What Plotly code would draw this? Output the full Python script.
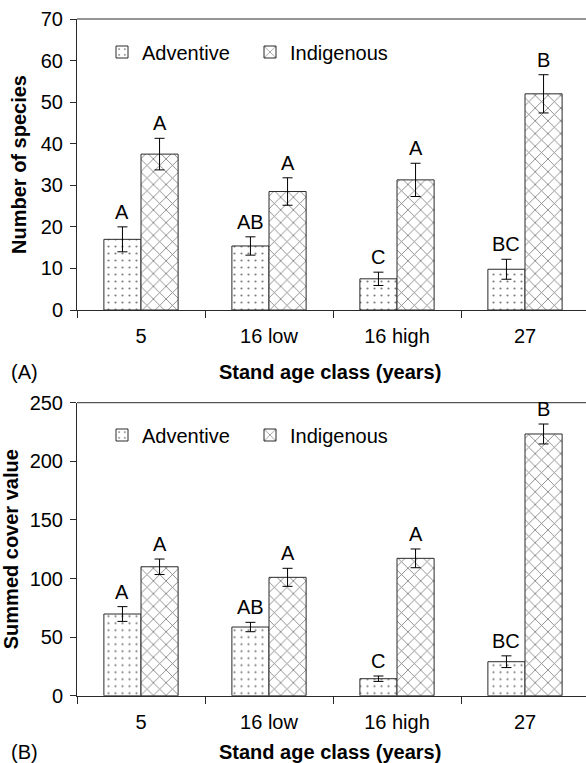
import plotly.graph_objects as go

categories = ["5", "16 low", "16 high", "27"]

species_adventive = [17.0, 15.4, 7.5, 9.8]
species_adventive_err = [3.0, 2.2, 1.6, 2.4]
species_indigenous = [37.5, 28.5, 31.3, 52.0]
species_indigenous_err = [3.8, 3.3, 4.0, 4.6]

cover_adventive = [69.7, 58.6, 14.5, 29.0]
cover_adventive_err = [6.3, 4.0, 2.3, 5.0]
cover_indigenous = [110.0, 101.0, 117.2, 223.3]
cover_indigenous_err = [6.6, 7.7, 8.0, 8.5]

letters_adventive = ["A", "AB", "C", "BC"]
letters_indigenous = ["A", "A", "A", "B"]

FONT = "Liberation Sans, Arial, sans-serif"
FS = 20
LINE = "#2a2a2a"

W, H = 586, 763
L, R, T, B = 77, 0, 19, 67
plot_h = H - T - B
top_px = (19, 310)
bot_px = (402.7, 695.7)


def pdom(px0, px1):
    return [(H - B - px1) / plot_h, (H - B - px0) / plot_h]


fig = go.Figure()

adv_pattern = dict(shape=".", size=7, solidity=0.08, fgcolor="black", bgcolor="white", fillmode="overlay")
ind_pattern = dict(shape="x", size=9, solidity=0.18, fgcolor="black", bgcolor="white", fillmode="overlay")


def add_pair(adv, adv_err, ind, ind_err, xa, ya, legend):
    fig.add_trace(go.Bar(
        x=categories, y=adv, name="Adventive", xaxis=xa, yaxis=ya, legend=legend,
        marker=dict(color="white", pattern=adv_pattern, line=dict(color=LINE, width=1)),
        error_y=dict(type="data", array=adv_err, visible=True, color="black", thickness=1, width=5),
        offsetgroup="a",
    ))
    fig.add_trace(go.Bar(
        x=categories, y=ind, name="Indigenous", xaxis=xa, yaxis=ya, legend=legend,
        marker=dict(color="white", pattern=ind_pattern, line=dict(color=LINE, width=1)),
        error_y=dict(type="data", array=ind_err, visible=True, color="black", thickness=1, width=5),
        offsetgroup="b",
    ))


add_pair(species_adventive, species_adventive_err, species_indigenous, species_indigenous_err, "x", "y", "legend")
add_pair(cover_adventive, cover_adventive_err, cover_indigenous, cover_indigenous_err, "x2", "y2", "legend2")

bargap = 0.42
half = (1 - bargap) / 4.0

annotations = []


def add_letters(vals, errs, letters, offset, xref, yref):
    for i, (v, e, t) in enumerate(zip(vals, errs, letters)):
        annotations.append(dict(
            x=i + offset, y=v + e, xref=xref, yref=yref, text=t, showarrow=False,
            yanchor="middle", yshift=15, font=dict(family=FONT, size=FS, color="black"),
        ))


add_letters(species_adventive, species_adventive_err, letters_adventive, -half, "x", "y")
add_letters(species_indigenous, species_indigenous_err, letters_indigenous, half, "x", "y")
add_letters(cover_adventive, cover_adventive_err, letters_adventive, -half, "x2", "y2")
add_letters(cover_indigenous, cover_indigenous_err, letters_indigenous, half, "x2", "y2")

plot_w = W - L - R
xcenter = ((330 - L) / plot_w)
for yref, ypx, dom, lab in [("y domain", 372, top_px, "(A)"), ("y2 domain", 752, bot_px, "(B)")]:
    yv = (dom[1] - ypx) / (dom[1] - dom[0])
    annotations.append(dict(x=xcenter, y=yv, xref="paper", yref=yref, text="<b>Stand age class (years)</b>",
                            showarrow=False, xanchor="center", yanchor="middle",
                            font=dict(family=FONT, size=FS, color="black")))
    annotations.append(dict(x=(24.5 - L) / plot_w, y=yv, xref="paper", yref=yref, text=lab,
                            showarrow=False, xanchor="center", yanchor="middle",
                            font=dict(family=FONT, size=FS, color="black")))

# x range so that each category spans 128 px (right boundary just beyond the page)
cat_px = 128.0
xrange = [-0.5, -0.5 + plot_w / cat_px]

common_x = dict(type="category", range=xrange, showline=True, linecolor=LINE, linewidth=1,
                ticks="outside", tickson="boundaries", ticklen=7, tickcolor=LINE,
                tickfont=dict(family=FONT, size=FS, color="black"), ticklabelstandoff=8,
                showgrid=False, zeroline=False, fixedrange=True)
common_y = dict(showline=True, linecolor=LINE, linewidth=1, ticks="outside", ticklen=6, tickcolor=LINE,
                tickfont=dict(family=FONT, size=FS, color="black"), ticklabelstandoff=3,
                showgrid=False, zeroline=False,
                title_font=dict(family=FONT, size=FS, color="black"), title_standoff=8)

fig.update_layout(
    width=W, height=H,
    margin=dict(l=L, r=R, t=T, b=B, pad=0),
    paper_bgcolor="white", plot_bgcolor="white",
    barmode="group", bargap=bargap, bargroupgap=0,
    font=dict(family=FONT, size=FS, color="black"),
    xaxis=dict(domain=[0, 1], anchor="y", **common_x),
    xaxis2=dict(domain=[0, 1], anchor="y2", **common_x),
    yaxis=dict(domain=pdom(*top_px), anchor="x", range=[0, 70], dtick=10,
               title_text="<b>Number of species</b>", **common_y),
    yaxis2=dict(domain=pdom(*bot_px), anchor="x2", range=[0, 250], dtick=50,
                title_text="<b>Summed cover value</b>", **common_y),
    legend=dict(orientation="h", x=(102 - L) / plot_w, xanchor="left",
                y=(H - B - 52) / plot_h, yanchor="middle", bgcolor="rgba(0,0,0,0)",
                font=dict(family=FONT, size=FS, color="black"),
                entrywidth=103, entrywidthmode="pixels", traceorder="normal"),
    legend2=dict(orientation="h", x=(102 - L) / plot_w, xanchor="left",
                 y=(H - B - 435) / plot_h, yanchor="middle", bgcolor="rgba(0,0,0,0)",
                 font=dict(family=FONT, size=FS, color="black"),
                 entrywidth=103, entrywidthmode="pixels", traceorder="normal"),
    annotations=annotations,
    shapes=[
        dict(type="line", xref="paper", yref="y domain", x0=0, x1=1, y0=1, y1=1,
             line=dict(color=LINE, width=1)),
        dict(type="line", xref="paper", yref="y2 domain", x0=0, x1=1, y0=1, y1=1,
             line=dict(color=LINE, width=1)),
    ],
)

fig.write_html("out.html")
